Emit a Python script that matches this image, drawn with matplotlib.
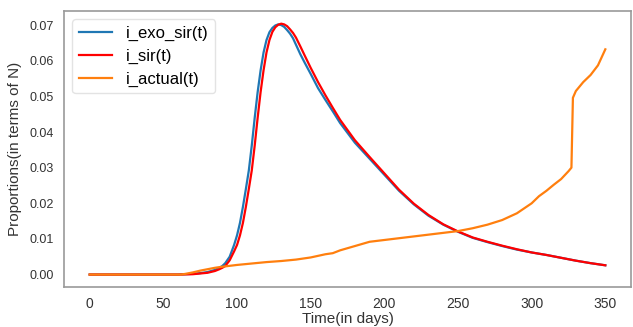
import numpy as np
import matplotlib
matplotlib.use("Agg")
import matplotlib.pyplot as plt

# Datos (dias y proporciones)
dias = [0, 10, 20, 30, 40, 50, 60, 65, 70, 75, 80, 85, 88, 90, 92, 95, 98, 100,
        102, 104, 106, 108, 110, 112, 114, 116, 118, 120, 122, 124, 126, 128, 130,
        132, 134, 136, 138, 140, 143, 146, 150, 155, 160, 165, 170, 180, 190, 200,
        210, 220, 230, 240, 250, 260, 270, 280, 290, 300, 310, 320, 330, 340, 350]

i_exo_sir = [0, 0, 0, 0, 0, 0, 0, 0.0001, 0.0002, 0.0004, 0.0007, 0.0013, 0.0019,
             0.0024, 0.0032, 0.0050, 0.0083, 0.0110, 0.0145, 0.0190, 0.0240, 0.0292,
             0.0362, 0.0440, 0.0512, 0.0573, 0.0623, 0.0658, 0.0680, 0.0692, 0.0699,
             0.0702, 0.0700, 0.0695, 0.0686, 0.0676, 0.0663, 0.0645, 0.0618, 0.0594,
             0.0563, 0.0523, 0.0490, 0.0458, 0.0425, 0.0370, 0.0325, 0.0280, 0.0235,
             0.0197, 0.0165, 0.0140, 0.0120, 0.0103, 0.0091, 0.0080, 0.0070, 0.0062,
             0.0055, 0.0047, 0.0039, 0.0032, 0.0026]

i_sir = [0, 0, 0, 0, 0, 0, 0, 0.00005, 0.0001, 0.0003, 0.0005, 0.0010, 0.0015,
         0.0019, 0.0024, 0.0040, 0.0065, 0.0083, 0.0110, 0.0145, 0.0190, 0.0240,
         0.0292, 0.0362, 0.0440, 0.0512, 0.0573, 0.0623, 0.0658, 0.0681, 0.0694,
         0.0701, 0.0704, 0.0702, 0.0697, 0.0688, 0.0678, 0.0665, 0.0640, 0.0614,
         0.0580, 0.0540, 0.0503, 0.0468, 0.0434, 0.0377, 0.0330, 0.0284, 0.0238,
         0.0199, 0.0167, 0.0141, 0.0121, 0.0104, 0.0092, 0.0081, 0.0071, 0.0062,
         0.0055, 0.0047, 0.0039, 0.0032, 0.0026]

dias_actual = [0, 10, 20, 30, 40, 50, 60, 62, 65, 70, 75, 80, 85, 90, 100, 110, 120,
               130, 140, 150, 160, 165, 170, 180, 190, 200, 210, 220, 230, 240, 250,
               260, 270, 280, 290, 300, 305, 310, 315, 320, 325, 327, 328, 330, 335,
               340, 345, 350]
i_actual = [0, 0, 0, 0, 0, 0, 0, 0, 0.0002, 0.0006, 0.0011, 0.0015, 0.0019, 0.0022,
            0.0027, 0.0031, 0.0035, 0.0038, 0.0042, 0.0048, 0.0057, 0.0060, 0.0068,
            0.0080, 0.0092, 0.0097, 0.0102, 0.0107, 0.0112, 0.0117, 0.0122, 0.0130,
            0.0140, 0.0153, 0.0172, 0.0200, 0.0220, 0.0235, 0.0252, 0.0268, 0.0290,
            0.0300, 0.0496, 0.0515, 0.0540, 0.0560, 0.0587, 0.0632]

plt.rcParams['font.family'] = ['Liberation Sans', 'DejaVu Sans']

fig = plt.figure(figsize=(6.33, 3.27), dpi=100)
ax = fig.add_axes([0.101, 0.122, 0.896, 0.844])

ax.plot(dias, i_exo_sir, color='#1f77b4', lw=1.6, label='i_exo_sir(t)')
ax.plot(dias, i_sir, color='red', lw=1.6, label='i_sir(t)')
ax.plot(dias_actual, i_actual, color='#ff7f0e', lw=1.6, label='i_actual(t)')

ax.set_xticks([0, 50, 100, 150, 200, 250, 300, 350])
ax.set_yticks([0, 0.01, 0.02, 0.03, 0.04, 0.05, 0.06, 0.07])
ax.set_yticklabels(['%.2f' % v for v in ax.get_yticks()])
ax.tick_params(axis='x', length=0, labelsize=10, colors='#333333', pad=7)
ax.tick_params(axis='y', length=0, labelsize=9, colors='#333333', pad=7)
ax.set_xlabel('Time(in days)', fontsize=11, color='#333333', labelpad=1)
ax.set_ylabel('Proportions(in terms of N)', fontsize=11, color='#333333', labelpad=6)

for s in ax.spines.values():
    s.set_color('#999999')
    s.set_linewidth(1.2)

ax.legend(loc='upper left', fontsize=12, frameon=True, edgecolor='#dddddd',
          handlelength=2.0, labelspacing=0.45)

plt.savefig('out.png', dpi=100)
